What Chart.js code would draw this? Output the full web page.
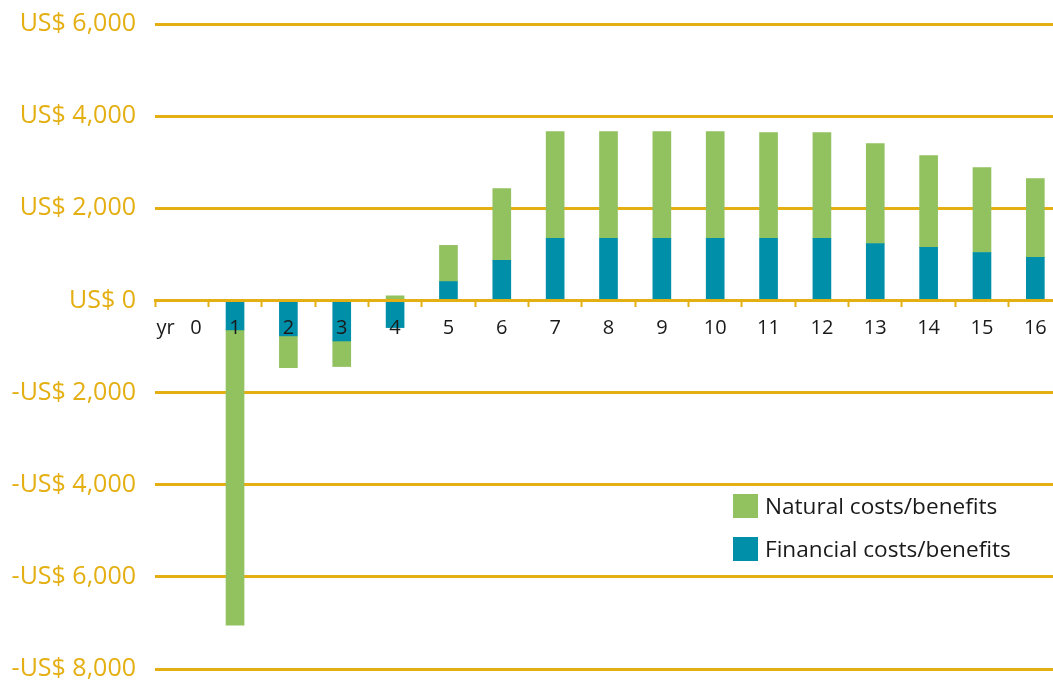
<!DOCTYPE html>
<html>
<head>
<meta charset="utf-8">
<script src="https://cdn.jsdelivr.net/npm/chart.js@4"></script>
<style>
  html, body { margin: 0; padding: 0; overflow: hidden; background: #ffffff; }
  #wrap { width: 1062px; height: 686px; }
</style>
</head>
<body>
<div id="wrap"><canvas id="chart" width="1062" height="686"></canvas></div>
<script>
// Years of the project; the first category carries the axis caption
const years = ['yr   0 ', '1', '2', '3', '4', '5', '6', '7', '8', '9', '10', '11', '12', '13', '14', '15', '16'];

// Yearly net costs (negative) and benefits (positive), US$; no flows in year 0
const financialValues = [null, -640, -770, -880, -590, 410, 870, 1350, 1350, 1350, 1350, 1350, 1350, 1235, 1150, 1040, 935];
const naturalValues = [null, -6410, -690, -555, 100, 785, 1560, 2315, 2315, 2315, 2315, 2295, 2295, 2170, 1995, 1845, 1710];

// Value axis ticks
const yTickValues = [-8000, -6000, -4000, -2000, 0, 2000, 4000, 6000];

const GOLD = '#E4AF12';
const GREEN = '#92C15F';
const TEAL = '#008FA9';
const FONT = '"Open Sans", "Noto Sans", sans-serif';

function formatUSD(v) {
  const s = 'US$ ' + Math.abs(v).toLocaleString('en-US');
  return v < 0 ? '-' + s : s;
}

// Legend drawn inside the plot, natural series listed first
const insideLegend = {
  id: 'insideLegend',
  afterDraw(chart, args, opts) {
    const ctx = chart.ctx;
    ctx.save();
    ctx.font = opts.fontSize + 'px ' + FONT;
    ctx.textBaseline = 'middle';
    ctx.textAlign = 'left';
    const order = chart.data.datasets.map((d, i) => i).reverse();
    order.forEach((di, row) => {
      const ds = chart.data.datasets[di];
      const top = opts.y + row * opts.rowGap;
      ctx.fillStyle = ds.backgroundColor;
      ctx.fillRect(opts.x, top, opts.box, opts.box - 1);
      ctx.fillStyle = '#1a1a1a';
      ctx.fillText(ds.label, opts.x + opts.box + 7, top + opts.box / 2 + 1.5);
    });
    ctx.restore();
  }
};

new Chart(document.getElementById('chart'), {
  type: 'bar',
  data: {
    labels: years,
    datasets: [
      { label: 'Financial costs/benefits', data: financialValues, backgroundColor: TEAL, stack: 'net' },
      { label: 'Natural costs/benefits', data: naturalValues, backgroundColor: GREEN, stack: 'net' }
    ]
  },
  options: {
    responsive: false,
    animation: false,
    layout: { padding: { top: 24, bottom: 17, left: 0, right: 0 } },
    datasets: { bar: { barThickness: 18 } },
    plugins: {
      legend: { display: false },
      tooltip: { enabled: false },
      insideLegend: { x: 733, y: 494, box: 25, rowGap: 43, fontSize: 22.6 }
    },
    scales: {
      x: {
        stacked: true,
        position: { y: 0 },
        offset: true,
        grid: {
          display: true,
          drawOnChartArea: false,
          drawTicks: true,
          tickLength: 5,
          tickWidth: 2,
          tickColor: GOLD,
          offset: true,
          z: 1
        },
        border: { display: true, color: GOLD, width: 3, z: 1 },
        ticks: {
          color: '#1a1a1a',
          font: { family: FONT, size: 20 },
          padding: 11,
          autoSkip: false,
          maxRotation: 0,
          z: 1
        }
      },
      y: {
        stacked: true,
        min: -8000,
        max: 6000,
        afterFit(scale) {
          scale.width = 155;
          scale.paddingTop = 0;
          scale.paddingBottom = 0;
        },
        afterBuildTicks(scale) { scale.ticks = yTickValues.map(v => ({ value: v })); },
        grid: { color: GOLD, lineWidth: 3, drawTicks: false },
        border: { display: false },
        ticks: {
          color: GOLD,
          font: { family: FONT, size: 25 },
          padding: 19,
          callback: (v) => formatUSD(v)
        }
      }
    }
  },
  plugins: [insideLegend]
});
</script>
</body>
</html>
